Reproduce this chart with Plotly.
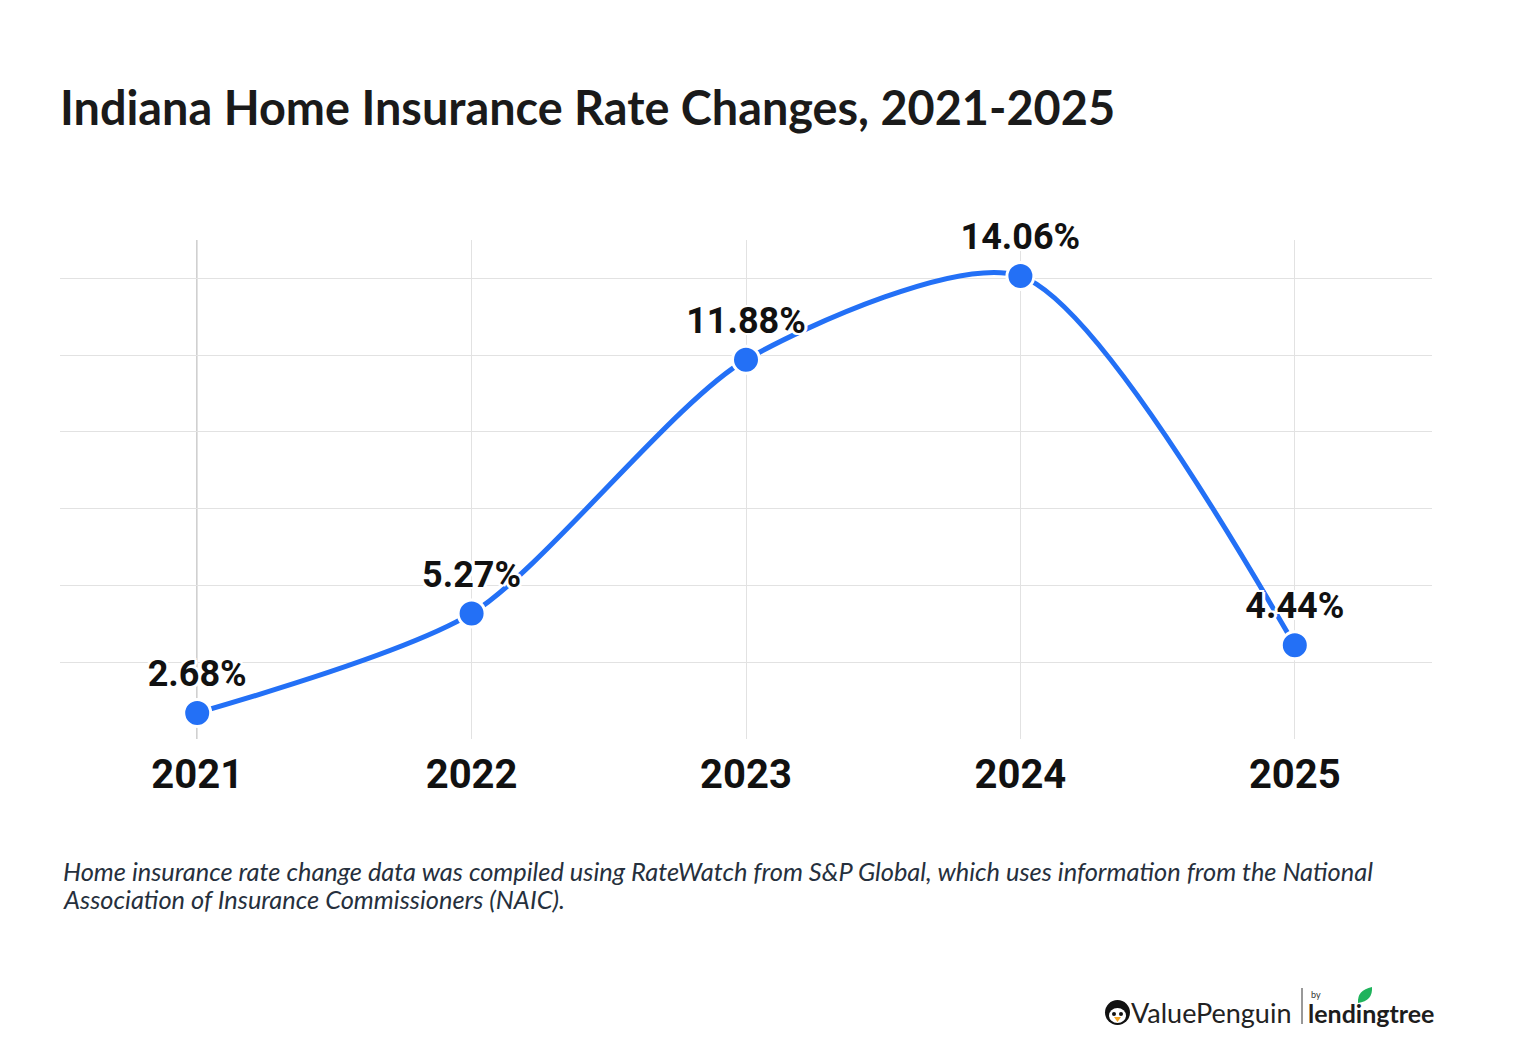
import plotly.graph_objects as go

years = [2021, 2022, 2023, 2024, 2025]
rate_changes = [2.68, 5.27, 11.88, 14.06, 4.44]
labels = ["2.68%", "5.27%", "11.88%", "14.06%", "4.44%"]
y_grid = [2, 4, 6, 8, 10, 12, 14]

title = "Indiana Home Insurance Rate Changes, 2021-2025"
footnote_lines = [
    "Home insurance rate change data was compiled using RateWatch from S&P Global, which uses information from the National",
    "Association of Insurance Commissioners (NAIC).",
]

BLUE = "#2370f6"
PX0, PX1, PY0, PY1 = 60, 1432, 240, 739  # target plot box in image pixels


def px(X):
    return (X - PX0) / (PX1 - PX0)


def py(Y):
    return (PY1 - Y) / (PY1 - PY0)


halo = ", ".join(f"{a}px {b}px 0 white" for a, b in
                 [(2, 0), (-2, 0), (0, 2), (0, -2), (2, 2), (-2, -2), (2, -2), (-2, 2), (3, 0), (-3, 0)])

fig = go.Figure()
fig.add_trace(go.Scatter(
    x=years, y=rate_changes,
    mode="lines+markers+text",
    line=dict(color=BLUE, width=5, shape="spline", smoothing=0.72),
    marker=dict(size=27, color=BLUE, line=dict(color="white", width=3)),
    text=labels,
    textposition="top center",
    textfont=dict(family="Roboto", size=36, color="#111111", weight="bold", shadow=halo),
    hoverinfo="skip",
    cliponaxis=False,
))

fig.add_shape(type="line", xref="x", yref="paper", x0=years[0], x1=years[0], y0=0, y1=1,
              line=dict(color="#8a8a8a", width=1.2), layer="between")

fig.update_layout(
    width=1520, height=1044,
    paper_bgcolor="white", plot_bgcolor="white",
    margin=dict(l=52, r=96, t=232, b=313),
    showlegend=False,
    title=dict(text="<b>" + title + "</b>", x=0, xref="paper", xanchor="left",
               y=1 - 101/1044, yref="container", yanchor="middle",
               font=dict(family="Lato", size=46.8, color="#1a1a1a")),
    xaxis=dict(range=[2020.5, 2025.5], tickvals=years, ticktext=[str(y) for y in years],
               showgrid=True, gridcolor="#e2e2e2", gridwidth=1, zeroline=False,
               showline=False, ticks="", ticklabelstandoff=8,
               tickfont=dict(family="Roboto", size=40, color="#111111", weight="bold")),
    yaxis=dict(range=[2, 15], tickvals=y_grid, showticklabels=False,
               showgrid=True, gridcolor="#e2e2e2", gridwidth=1, zeroline=False,
               showline=False, ticks=""),
)

for i, line in enumerate(footnote_lines):
    fig.add_annotation(text="<i>" + line + "</i>", xref="paper", yref="paper",
                       x=px(61), y=py(871 + 28 * i), xanchor="left", yanchor="middle",
                       align="left", showarrow=False,
                       font=dict(family="Lato", size=25.4, color="#26303d"))

# logo: penguin icon
fig.add_shape(type="circle", xref="paper", yref="paper",
              x0=px(1105), x1=px(1130), y0=py(1025), y1=py(1000),
              fillcolor="#111111", line=dict(width=0))
fig.add_shape(type="circle", xref="paper", yref="paper",
              x0=px(1109), x1=px(1126), y0=py(1023), y1=py(1008),
              fillcolor="white", line=dict(width=0))
fig.add_shape(type="circle", xref="paper", yref="paper",
              x0=px(1112), x1=px(1116), y0=py(1016), y1=py(1012),
              fillcolor="#111111", line=dict(width=0))
fig.add_shape(type="circle", xref="paper", yref="paper",
              x0=px(1119), x1=px(1123), y0=py(1016), y1=py(1012),
              fillcolor="#111111", line=dict(width=0))
fig.add_shape(type="path", xref="paper", yref="paper",
              path=f"M {px(1114)},{py(1017)} L {px(1121)},{py(1017)} L {px(1117.5)},{py(1022)} Z",
              fillcolor="#f5a623", line=dict(width=0))

fig.add_annotation(text="ValuePenguin", xref="paper", yref="paper",
                   x=px(1293), y=py(1012), xanchor="right", yanchor="middle",
                   showarrow=False, font=dict(family="Lato", size=27, color="#222222"))
fig.add_shape(type="line", xref="paper", yref="paper",
              x0=px(1302), x1=px(1302), y0=py(988), y1=py(1024),
              line=dict(color="#333333", width=1))
fig.add_annotation(text="by", xref="paper", yref="paper",
                   x=px(1309), y=py(994), xanchor="left", yanchor="middle",
                   showarrow=False, font=dict(family="Lato", size=9, color="#333333"))
fig.add_annotation(text="<b>lendingtree</b>", xref="paper", yref="paper",
                   x=px(1306), y=py(1013), xanchor="left", yanchor="middle",
                   showarrow=False, font=dict(family="Lato", size=25, color="#1d1d1d"))
# leaf
fig.add_shape(type="path", xref="paper", yref="paper",
              path=(f"M {px(1358)},{py(1003)} Q {px(1357)},{py(990)} {px(1372)},{py(987)} "
                    f"Q {px(1373)},{py(1001)} {px(1358)},{py(1003)} Z"),
              fillcolor="#1fb35c", line=dict(width=0))

fig.write_html("out.html")
